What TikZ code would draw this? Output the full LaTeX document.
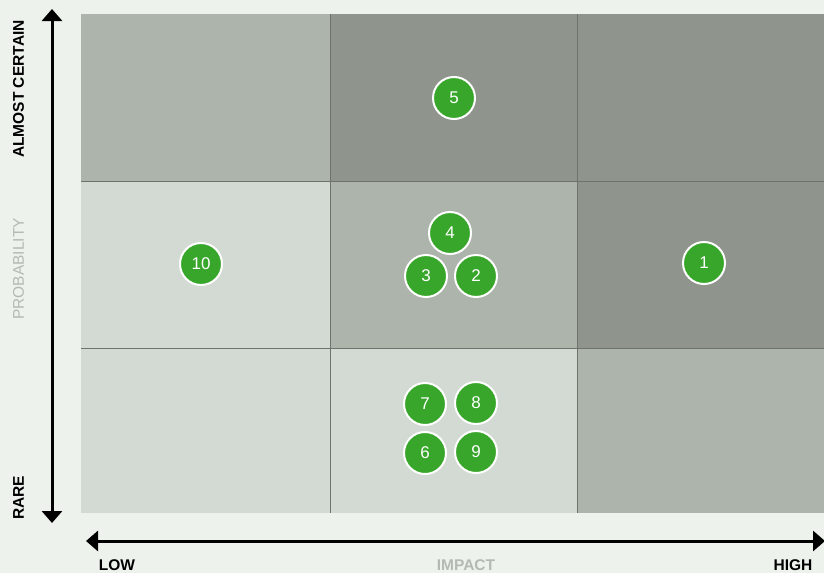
\documentclass[tikz,border=0pt]{standalone}
\usepackage{fontspec}
\setmainfont{Liberation Sans}
\usetikzlibrary{arrows.meta}
\definecolor{bgc}{HTML}{EDF3EC}
\definecolor{cdark}{HTML}{8F948C}
\definecolor{cmid}{HTML}{ADB4AC}
\definecolor{clight}{HTML}{D3DAD3}
\definecolor{gline}{HTML}{6E736C}
\definecolor{rgreen}{HTML}{38A62A}
\definecolor{lgray}{HTML}{B4BAB2}
\tikzset{
  riskpt/.style={circle,fill=rgreen,draw=white,line width=2pt,minimum size=42pt,inner sep=0pt,text=white,font=\fontsize{17}{17}\selectfont},
  axlab/.style={font=\bfseries\fontsize{15.5}{16}\selectfont,text=black,inner sep=0pt},
  axarrow/.style={line width=3pt,-{Triangle[length=12pt,width=20pt]}},
}
\begin{document}
\begin{tikzpicture}[x=1pt,y=-1pt]
\fill[bgc] (0,0) rectangle (824,573);
\useasboundingbox (0,0) rectangle (824,573);
% cells
\fill[cmid] (81,14) rectangle (330,181);
\fill[cdark] (330,14) rectangle (577,181);
\fill[cdark] (577,14) rectangle (824,181);
\fill[clight] (81,181) rectangle (330,348);
\fill[cmid] (330,181) rectangle (577,348);
\fill[cdark] (577,181) rectangle (824,348);
\fill[clight] (81,348) rectangle (330,513);
\fill[clight] (330,348) rectangle (577,513);
\fill[cmid] (577,348) rectangle (824,513);
\draw[gline,line width=0.8pt] (330,14) -- (330,513) (577,14) -- (577,513)
  (81,181) -- (824,181) (81,348) -- (824,348);
% axes
\coordinate (vb) at (52,267);
\coordinate (vt) at (52,9);
\coordinate (vd) at (52,523);
\draw[axarrow] (vb) -- (vt);
\draw[axarrow] (vb) -- (vd);
\coordinate (hm) at (455,541);
\coordinate (hl) at (86,541);
\coordinate (hr) at (825,541);
\draw[axarrow] (hm) -- (hl);
\draw[axarrow] (hm) -- (hr);
% labels
\node[axlab,rotate=90] (ac) at (18.5,89) {ALMOST CERTAIN};
\node[axlab,rotate=90,text=lgray,font=\fontsize{15.5}{16}\selectfont] (pr) at (18.5,269) {PROBABILITY};
\node[axlab,rotate=90] (ra) at (18.5,498) {RARE};
\node[axlab] (lo) at (117,565) {LOW};
\node[axlab,text=lgray] (im) at (466,565) {IMPACT};
\node[axlab] (hi) at (793,565) {HIGH};
% points
\node[riskpt] (p5) at (454,98) {5};
\node[riskpt] (p10) at (201,264) {10};
\node[riskpt] (p4) at (450,233) {4};
\node[riskpt] (p3) at (426,276) {3};
\node[riskpt] (p2) at (476,276) {2};
\node[riskpt] (p1) at (704,263) {1};
\node[riskpt] (p7) at (425,404) {7};
\node[riskpt] (p8) at (476,403) {8};
\node[riskpt] (p6) at (425,453) {6};
\node[riskpt] (p9) at (476,452) {9};
\end{tikzpicture}
\end{document}
